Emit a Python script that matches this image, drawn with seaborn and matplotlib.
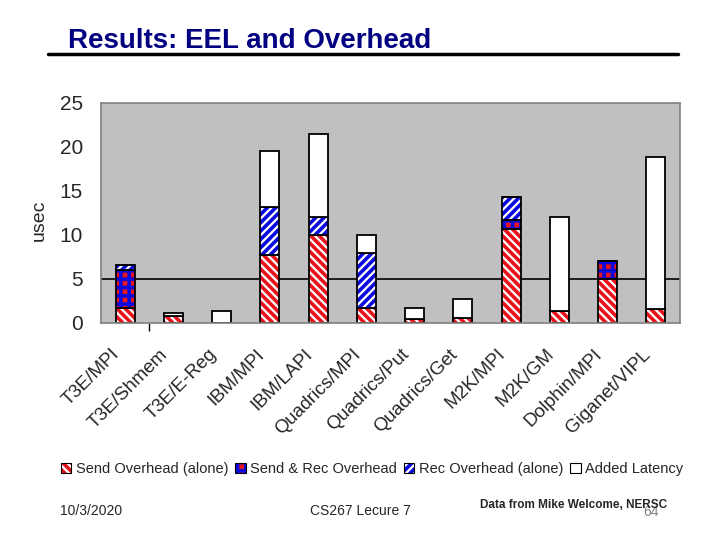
import matplotlib
matplotlib.use("Agg")
import matplotlib.pyplot as plt
from matplotlib.patches import Patch
from matplotlib.lines import Line2D
from matplotlib.transforms import ScaledTranslation
import seaborn as sns
import numpy as np

# ---- data ----
categories = ["T3E/MPI", "T3E/Shmem", "T3E/E-Reg", "IBM/MPI", "IBM/LAPI",
              "Quadrics/MPI", "Quadrics/Put", "Quadrics/Get", "M2K/MPI",
              "M2K/GM", "Dolphin/MPI", "Giganet/VIPL"]
send_overhead = [1.6, 0.75, 0.0, 7.65, 10.0, 1.7, 0.45, 0.5, 10.65, 1.3, 5.0, 1.5]
send_rec_overhead = [4.4, 0.0, 0.0, 0.0, 0.0, 0.0, 0.0, 0.0, 1.05, 0.0, 1.95, 0.0]
rec_overhead = [0.55, 0.0, 0.0, 5.45, 2.0, 6.2, 0.0, 0.0, 2.6, 0.0, 0.0, 0.0]
added_latency = [0.0, 0.3, 1.3, 6.4, 9.45, 2.05, 1.25, 2.2, 0.0, 10.7, 0.0, 17.35]
series_names = ["Send Overhead (alone)", "Send & Rec Overhead",
                "Rec Overhead (alone)", "Added Latency"]
y_ticks = [0, 5, 10, 15, 20, 25]

sns.set_theme(style="white")
plt.rcParams['font.family'] = ['Liberation Sans', 'DejaVu Sans']
plt.rcParams['hatch.linewidth'] = 2.6

fig = plt.figure(figsize=(7.2, 5.4), dpi=100)
fig.patch.set_facecolor('white')
ax = fig.add_axes([101 / 720, 1 - 322.5 / 540, 579 / 720, 219.5 / 540])
ax.set_facecolor('#C0C0C0')

RED = '#E8141C'
BLUE = '#0A0ADC'
styles = [
    dict(facecolor='white', edgecolor=RED, hatch='\\\\\\\\'),
    dict(facecolor=RED, edgecolor=BLUE, hatch='++'),
    dict(facecolor='white', edgecolor=BLUE, hatch='////'),
    dict(facecolor='white', edgecolor='white', hatch=None),
]
series = [send_overhead, send_rec_overhead, rec_overhead, added_latency]

ax.axhline(5, color='black', lw=1.2, zorder=0.5)

bottom = np.zeros(len(categories))
for vals, st in zip(series, styles):
    vals = np.asarray(vals, dtype=float)
    sns.barplot(x=categories, y=vals, bottom=bottom, width=0.39,
                color=st['facecolor'], saturation=1, errorbar=None, ax=ax,
                linewidth=0, **st)
    sns.barplot(x=categories, y=vals, bottom=bottom, width=0.39,
                color='black', saturation=1, errorbar=None, ax=ax,
                facecolor='none', edgecolor='black', linewidth=1.3)
    bottom = bottom + vals

ax.set_ylim(0, 25)
ax.set_xlim(-0.5, len(categories) - 0.5)
for s in ax.spines.values():
    s.set_visible(True)
    s.set_color('#808080')
    s.set_linewidth(1.2)

ax.set_yticks(y_ticks)
ax.set_yticklabels([str(t) for t in y_ticks], fontsize=15)
ax.tick_params(axis='y', which='major', length=0, pad=13)
ax.set_yticks([5, 25], minor=True)
ax.tick_params(axis='y', which='minor', length=3.6, width=1, color='black', left=True)

ax.set_xticks(range(len(categories)))
ax.set_xticklabels(categories, rotation=45, ha='right', va='center',
                   rotation_mode='anchor', fontsize=13.5)
ax.tick_params(axis='x', which='major', length=0, pad=21)
shift = ScaledTranslation(-8 / 100, 0, fig.dpi_scale_trans)
for lab in ax.get_xticklabels():
    lab.set_transform(lab.get_transform() + shift)
ax.set_xticks([0.5], minor=True)
ax.tick_params(axis='x', which='minor', length=6, width=1, color='black', bottom=True)
ax.set_xlabel('')
ax.set_ylabel('usec', fontsize=14)
ax.yaxis.set_label_coords(-0.0915, 0.467)

# title + underline
fig.text(68 / 720, 1 - 48.5 / 540, "Results: EEL and Overhead", color='#000080',
         fontsize=20, fontweight='bold', va='baseline')
fig.add_artist(Line2D([48 / 720, 678 / 720], [1 - 54 / 540] * 2,
                      color='black', lw=2.5))

# legend
handles = []
for st in styles:
    h1 = Patch(facecolor=st['facecolor'], edgecolor=st['edgecolor'],
               hatch=st['hatch'], linewidth=0)
    h2 = Patch(facecolor='none', edgecolor='black', linewidth=0.8)
    handles.append((h1, h2))
fig.legend(handles, series_names, loc='center',
           bbox_to_anchor=(372 / 720, 1 - 469 / 540), ncol=4, frameon=False,
           fontsize=10.5, handlelength=0.7, handleheight=0.7,
           handletextpad=0.3, columnspacing=0.5, borderpad=0)

# footer
fig.text(60 / 720, 1 - 511 / 540, "10/3/2020", fontsize=10, va='center')
fig.text(360 / 720, 1 - 511 / 540, "CS267 Lecure 7", fontsize=10,
         va='center', ha='center')
fig.text(651 / 720, 1 - 512 / 540, "64", fontsize=10, va='center',
         ha='center', color='#808080')
fig.text(574 / 720, 1 - 505 / 540, "Data from Mike Welcome, NERSC",
         fontsize=8.5, fontweight='bold', va='center', ha='center',
         family=['Liberation Sans Narrow', 'Liberation Sans', 'DejaVu Sans'])

fig.savefig('out.png', dpi=100)
